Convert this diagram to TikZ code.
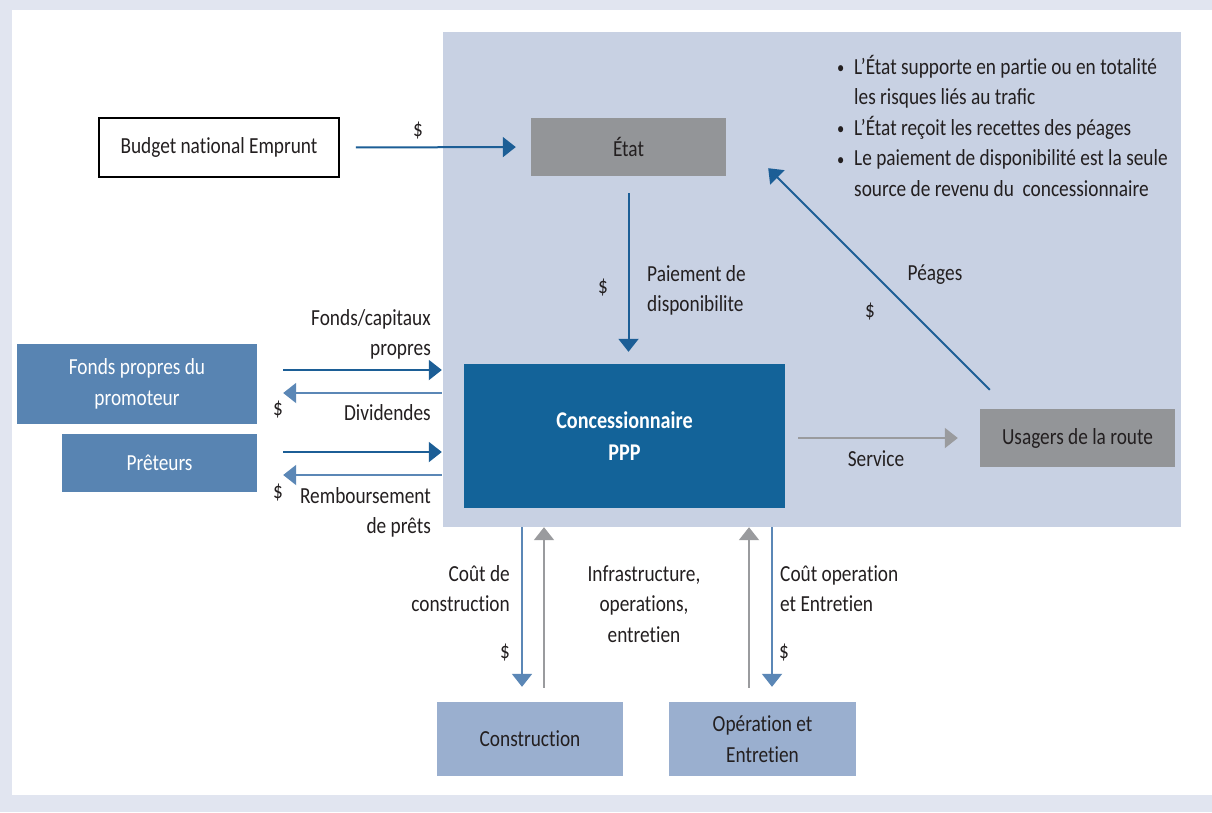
\documentclass[tikz,border=0pt]{standalone}
\usepackage{fontspec}
\setmainfont{Carlito}[FakeStretch=0.84,Ligatures=NoCommon]
\usetikzlibrary{arrows.meta,calc}
\definecolor{outerbg}{HTML}{E1E5F0}
\definecolor{zone}{HTML}{C8D1E3}
\definecolor{darkblue}{HTML}{136399}
\definecolor{arrowdark}{HTML}{1C5E96}
\definecolor{arrowlight}{HTML}{5B87B6}
\definecolor{midblue}{HTML}{5884B2}
\definecolor{paleblue}{HTML}{9AAFCF}
\definecolor{boxgray}{HTML}{939598}
\definecolor{arrowgray}{HTML}{9A9B9E}
\definecolor{txt}{HTML}{231F20}
\newcommand{\blt}{\makebox[17pt][l]{\raisebox{0.5pt}{\scalebox{0.75}{\textbullet}}}}
\tikzset{
  basebox/.style={rectangle, inner sep=0pt, align=center, text=txt},
  whitebox/.style={basebox, fill=white, draw=black, line width=1.8pt},
  graybox/.style={basebox, fill=boxgray},
  conbox/.style={basebox, fill=darkblue, text=white, font=\fontsize{24}{32}\selectfont\bfseries},
  midbox/.style={basebox, fill=midblue, text=white},
  palebox/.style={basebox, fill=paleblue},
  lbl/.style={inner sep=0pt, text=txt},
  tipstyle/.style={-{Triangle[width=20pt,length=13pt]}},
  darr/.style={tipstyle, line width=2pt, draw=arrowdark},
  larr/.style={tipstyle, line width=2pt, draw=arrowlight},
  garr/.style={tipstyle, line width=2pt, draw=arrowgray},
}
\begin{document}
\begin{tikzpicture}[x=1pt,y=-1pt,font=\fontsize{23}{30.5}\selectfont]
\useasboundingbox (0,0) rectangle (1212,812);
\fill[outerbg] (0,0) rectangle (1212,812);
\fill[white] (12,10) rectangle (1212,795);
\fill[zone] (443,32) rectangle (1181,527);

% boxes
\node[whitebox, minimum width=240pt, minimum height=59pt] (budget) at (219,147.5) {Budget national Emprunt};
\node[graybox, minimum width=195pt, minimum height=58pt] (etat) at (628.5,147) {État};
\node[conbox, minimum width=321pt, minimum height=144pt] (conc) at (624.5,436) {Concessionnaire\\PPP};
\node[graybox, minimum width=195pt, minimum height=58pt] (usagers) at (1077.5,438) {Usagers de la route};
\node[midbox, minimum width=240pt, minimum height=80pt] (fonds) at (137,384) {Fonds propres du\\promoteur};
\node[midbox, minimum width=195pt, minimum height=58pt] (preteurs) at (159.5,463) {Prêteurs};
\node[palebox, minimum width=186pt, minimum height=74pt] (constr) at (530,739) {Construction};
\node[palebox, minimum width=187pt, minimum height=74pt] (oper) at (762.5,739) {Opération et\\Entretien};

% bullet text
\node[lbl, anchor=north west, align=left] (notes) at (837,55) {%
\blt L’État supporte en partie ou en totalité\\
\hspace*{17pt}les risques liés au traﬁc\\
\blt L’État reçoit les recettes des péages\\
\blt Le paiement de disponibilité est la seule\\
\hspace*{17pt}source de revenu du \ concessionnaire};

% arrows top
\draw[darr, shorten <=16pt, shorten >=15pt] (budget.east) -- (etat.west);
\node[lbl] (d1) at (418,131) {\$};
\draw[darr, shorten <=17pt, shorten >=12pt] (etat.south) -- (etat.south |- conc.north);
\node[lbl] (d2) at (603,288) {\$};
\node[lbl, anchor=west, align=left] (paie) at (647,290.5) {Paiement de\\disponibilite};

% peages
\coordinate (pstart) at ($(usagers.north west)+(10,-19)$);
\coordinate (pend) at ($(etat.south east)+(42,-8)$);
\draw[darr] (pstart) -- (pend);
\node[lbl] (peages) at (935,275) {Péages};
\node[lbl] (d3) at (870,312) {\$};

% service
\draw[garr, shorten <=13pt, shorten >=22pt] (conc.east |- usagers.west) -- (usagers.west);
\node[lbl] (service) at (876,459) {Service};

% left arrows
\draw[darr, shorten <=26pt, shorten >=22pt] (fonds.east |- 0,370) -- (conc.west |- 0,370);
\draw[larr, shorten <=22pt, shorten >=26pt] (conc.west |- 0,393) -- (fonds.east |- 0,393);
\draw[darr, shorten <=26pt, shorten >=22pt] (preteurs.east |- 0,452) -- (conc.west |- 0,452);
\draw[larr, shorten <=22pt, shorten >=26pt] (conc.west |- 0,475) -- (preteurs.east |- 0,475);
\node[lbl, anchor=east, align=right] (fcp) at (431,334.5) {Fonds/capitaux\\propres};
\node[lbl, anchor=east] (divid) at (431,413) {Dividendes};
\node[lbl] (d4) at (278,410) {\$};
\node[lbl, anchor=east, align=right] (remb) at (431,512.5) {Remboursement\\de prêts};
\node[lbl] (d5) at (278,493) {\$};

% bottom arrows
\draw[larr, shorten <=19pt, shorten >=15pt] (522,0 |- conc.south) -- (522,0 |- constr.north);
\draw[garr, shorten <=14pt, shorten >=19pt] (544,0 |- constr.north) -- (544,0 |- conc.south);
\draw[garr, shorten <=14pt, shorten >=19pt] (749,0 |- oper.north) -- (749,0 |- conc.south);
\draw[larr, shorten <=19pt, shorten >=15pt] (772,0 |- conc.south) -- (772,0 |- oper.north);
\node[lbl, anchor=east, align=right] (cdc) at (510,588.5) {Coût de\\construction};
\node[lbl] (d6) at (505,653) {\$};
\node[lbl, align=center] (infra) at (644,604) {Infrastructure,\\operations,\\entretien};
\node[lbl, anchor=west, align=left] (coe) at (780,588.5) {Coût operation\\et Entretien};
\node[lbl] (d7) at (784,653) {\$};
\end{tikzpicture}
\end{document}
